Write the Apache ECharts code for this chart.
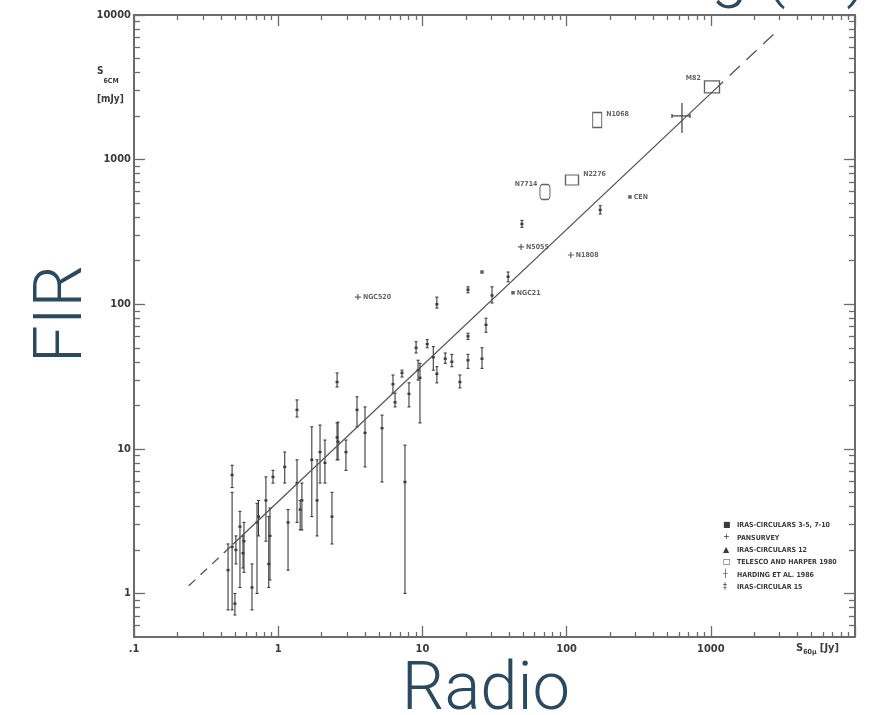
<!DOCTYPE html>
<html>
<head>
<meta charset="utf-8">
<script src="https://cdn.jsdelivr.net/npm/echarts@6/dist/echarts.min.js"></script>
<style>
  html, body { margin: 0; padding: 0; background: #ffffff; }
  #wrap { position: relative; width: 872px; height: 715px; overflow: hidden; }
  #plot, #names { position: absolute; left: 0; top: 0; width: 872px; height: 715px; }
  #plot { filter: blur(0.5px); }
</style>
</head>
<body>
<div id="wrap"><div id="plot"></div><div id="names"></div></div>
<script>
// 6 cm radio flux (mJy) against 60 micron IRAS flux (Jy), log-log.

// Axis decades and their labels
const xDecades = [0.1, 1, 10, 100, 1000, 10000];
const xDecadeLabels = ['.1', '1', '10', '100', '1000', ''];
const yDecades = [1, 10, 100, 1000, 10000];
const yDecadeLabels = ['1', '10', '100', '1000', '10000'];

// Vertical error bars (IRAS circular 15): S60, S6cm, lower, upper
const barX  = [0.479, 0.479, 0.449, 0.501, 0.509, 0.543, 0.570, 0.579, 0.658, 0.713,
               0.73, 0.822, 0.877, 0.86, 0.92, 1.11, 1.17, 1.35, 1.35, 1.46,
               1.42, 1.71, 1.86, 1.95, 2.11, 2.36, 2.60, 2.95, 2.56, 2.56,
               3.52, 4.0, 5.25, 7.57, 6.25, 6.46, 7.22, 8.07, 9.04, 9.33,
               9.62, 10.8, 11.9, 12.6, 14.4, 16.0, 18.2, 20.7, 20.7, 25.9,
               27.6, 20.7, 12.6, 30.4, 39.3, 49, 171];
const barY  = [6.6, 2.1, 1.45, 0.85, 2.0, 2.9, 1.9, 2.3, 1.1, 3.1,
               3.4, 4.4, 2.5, 1.6, 6.4, 7.5, 3.1, 18.6, 5.8, 4.4,
               3.8, 8.4, 4.4, 9.5, 8.0, 3.4, 11.2, 9.5, 29, 12,
               18.6, 12.9, 13.9, 5.9, 28, 21, 33.5, 24, 50, 35,
               31, 53, 43, 33, 42, 40, 29, 41, 60, 42,
               72, 126, 100, 115, 155, 359, 449];
const barLo = [5.4, 0.77, 0.77, 0.71, 1.6, 1.1, 1.5, 1.4, 0.77, 1.0,
               2.5, 2.3, 1.24, 1.1, 5.8, 5.8, 1.45, 16.6, 3.1, 2.75,
               2.75, 3.4, 2.5, 5.8, 5.8, 2.2, 8.4, 7.1, 26.8, 8.4,
               14.2, 7.5, 5.9, 1.0, 24.3, 19.5, 31.4, 19.5, 46, 29.9,
               15.1, 50, 35, 28.6, 39, 37, 26.4, 36, 57, 36,
               64, 120, 94, 102, 143, 340, 420];
const barHi = [7.7, 5.0, 2.2, 1.0, 2.5, 3.7, 2.5, 3.1, 1.6, 4.2,
               4.4, 6.4, 3.9, 3.4, 7.1, 9.5, 3.8, 21.8, 8.4, 5.8,
               4.4, 14.2, 8.4, 14.6, 11.5, 5.0, 15.3, 11.5, 33.5, 15.1,
               22.9, 19.5, 17.1, 10.6, 32.4, 24.3, 35, 28.6, 55, 41,
               39, 57, 51, 37, 46, 45, 32.4, 45, 63, 50,
               80, 132, 112, 132, 167, 380, 480];

// Cross with errors in both coordinates (Harding et al.)
const crossX = [631];   const crossY = [2005];
const crossXLo = [538]; const crossXHi = [718];
const crossYLo = [1530]; const crossYHi = [2466];

// Single sources
const plusX = [3.57, 48.3, 107];   const plusY = [112, 249, 219];
const plusNames = ['NGC520', 'N5055', 'N1808'];
const dotX = [42.5, 275, 25.9];    const dotY = [120, 552, 167];
const dotNames = ['NGC21', 'CEN', ''];
const boxX = [109, 163, 1019];     const boxY = [723, 1880, 3184];
const boxNames = ['N2276', 'N1068', 'M82'];
const ringX = [70.8];              const ringY = [598];
const ringNames = ['N7714'];

// Names written next to error-bar sources
const tagX = [0.479, 1.35, 7.57, 631, 1019];
const tagY = [7.7, 21.8, 5.9, 2005, 3184];
const tagNames = ['ZW11002', 'MRK 33', 'NGC278', 'M83', 'N253'];

// Fitted relation: solid over the data, dashed beyond
const fitSolidX = [0.486, 1035];  const fitSolidY = [2.19, 2965];
const fitLowX = [0.24, 0.486];    const fitLowY = [1.13, 2.19];
const fitHighX = [1035, 2786];    const fitHighY = [2965, 7516];

// Key entries
const keySymbols = ['\u25A0', '+', '\u25B2', '\u25A1', '\u253C', '\u2021'];
const keyTexts = ['IRAS-CIRCULARS 3-5, 7-10', 'PANSURVEY', 'IRAS-CIRCULARS 12',
                  'TELESCO AND HARPER 1980', 'HARDING ET AL. 1986', 'IRAS-CIRCULAR 15'];

// ---------------------------------------------------------------------------
const INK = '#3b3b3b';
const AXIS = '#6b6b6b';
const SMALL_FONT = '"Liberation Sans Narrow", "DejaVu Sans Condensed", sans-serif';

const xMin = 0.1, xMax = 10000, yMin = 0.5, yMax = 10000;
const xMinor = [];
[0.1, 1, 10, 100, 1000].forEach(d => { for (let k = 2; k <= 9; k++) xMinor.push(+(d * k).toPrecision(6)); });
const yMinor = [0.6, 0.7, 0.8, 0.9];
[1, 10, 100, 1000].forEach(d => { for (let k = 2; k <= 9; k++) yMinor.push(+(d * k).toPrecision(6)); });

function sameDecade(a, b) { return Math.abs(Math.log10(a) - Math.log10(b)) < 1e-6; }
function decadeLabel(list, labels) {
  return v => { const i = list.findIndex(d => sameDecade(d, v)); return i < 0 ? '' : labels[i]; };
}

function logAxis(kind, opts) {
  const base = {
    type: 'log', logBase: 10,
    min: kind === 'x' ? xMin : yMin, max: kind === 'x' ? xMax : yMax,
    splitLine: { show: false },
    axisLine: { show: false, lineStyle: { color: AXIS, width: 2 } },
    axisTick: { show: true, inside: true, lineStyle: { color: AXIS, width: 1.3 } },
    axisLabel: { show: false }
  };
  return Object.assign(base, opts, {
    axisLine: Object.assign({}, base.axisLine, opts.axisLine || {}),
    axisTick: Object.assign({}, base.axisTick, opts.axisTick || {}),
    axisLabel: Object.assign({}, base.axisLabel, opts.axisLabel || {})
  });
}

const xAxes = [
  logAxis('x', { position: 'bottom', axisLine: { show: true },
    axisTick: { customValues: xDecades, length: 11 },
    axisLabel: { show: true, customValues: xDecades.slice(0, 5), margin: 7,
      formatter: decadeLabel(xDecades, xDecadeLabels),
      color: INK, fontSize: 11, fontWeight: 'bold', fontFamily: SMALL_FONT } }),
  logAxis('x', { position: 'bottom', axisTick: { customValues: xMinor, length: 5 } }),
  logAxis('x', { position: 'top', axisLine: { show: true },
    axisTick: { customValues: xDecades, length: 11 } }),
  logAxis('x', { position: 'top', axisTick: { customValues: xMinor, length: 5 } })
];
const yAxes = [
  logAxis('y', { position: 'left', axisLine: { show: true },
    axisTick: { customValues: yDecades, length: 11 },
    axisLabel: { show: true, customValues: yDecades, margin: 3,
      formatter: decadeLabel(yDecades, yDecadeLabels),
      color: INK, fontSize: 11, fontWeight: 'bold', fontFamily: SMALL_FONT } }),
  logAxis('y', { position: 'left', axisTick: { customValues: yMinor, length: 6 } }),
  logAxis('y', { position: 'right', axisLine: { show: true },
    axisTick: { customValues: yDecades, length: 11 } }),
  logAxis('y', { position: 'right', axisTick: { customValues: yMinor, length: 6 } })
];

function pairs(xs, ys) { return xs.map((x, i) => [x, ys[i]]); }

function renderBar(params, api) {
  const x = api.value(0);
  const c = api.coord([x, api.value(1)]);
  const lo = api.coord([x, api.value(2)]);
  const hi = api.coord([x, api.value(3)]);
  const st = { stroke: INK, lineWidth: 1.1 };
  return { type: 'group', children: [
    { type: 'line', shape: { x1: c[0], y1: hi[1], x2: c[0], y2: lo[1] }, style: st },
    { type: 'line', shape: { x1: c[0] - 1.5, y1: hi[1], x2: c[0] + 1.5, y2: hi[1] }, style: st },
    { type: 'line', shape: { x1: c[0] - 1.5, y1: lo[1], x2: c[0] + 1.5, y2: lo[1] }, style: st },
    { type: 'rect', shape: { x: c[0] - 1.5, y: c[1] - 1.2, width: 3, height: 2.4 }, style: { fill: INK } }
  ]};
}

function renderCross(params, api) {
  const y = api.value(1);
  const c = api.coord([api.value(0), y]);
  const l = api.coord([api.value(2), y]);
  const r = api.coord([api.value(3), y]);
  const b = api.coord([api.value(0), api.value(4)]);
  const t = api.coord([api.value(0), api.value(5)]);
  const st = { stroke: INK, lineWidth: 1.2 };
  return { type: 'group', children: [
    { type: 'line', shape: { x1: l[0], y1: c[1], x2: r[0], y2: c[1] }, style: st },
    { type: 'line', shape: { x1: c[0], y1: t[1], x2: c[0], y2: b[1] }, style: st },
    { type: 'line', shape: { x1: l[0], y1: c[1] - 2, x2: l[0], y2: c[1] + 2 }, style: st },
    { type: 'line', shape: { x1: r[0], y1: c[1] - 2, x2: r[0], y2: c[1] + 2 }, style: st }
  ]};
}

const tagLabel = { show: true, color: INK, fontSize: 7, fontWeight: 'bold', fontFamily: SMALL_FONT };
function named(xs, ys, names, placements) {
  return xs.map((x, i) => ({ value: [x, ys[i]], name: names[i],
    label: Object.assign({}, tagLabel, { formatter: names[i] }, placements[i] || {}) }));
}

const fitStyle = { color: '#555', width: 1.3 };

const option = {
  backgroundColor: '#ffffff',
  animation: false,
  grid: { left: 134, right: 17, top: 15, bottom: 78, containLabel: false, outerBoundsMode: 'none' },
  xAxis: xAxes,
  yAxis: yAxes,
  series: [
    { type: 'line', data: pairs(fitSolidX, fitSolidY), symbol: 'none', lineStyle: fitStyle, silent: true },
    { type: 'line', data: pairs(fitLowX, fitLowY), symbol: 'none',
      lineStyle: Object.assign({ type: [9, 7] }, fitStyle), silent: true },
    { type: 'line', data: pairs(fitHighX, fitHighY), symbol: 'none',
      lineStyle: Object.assign({ type: [14, 9] }, fitStyle), silent: true },
    { type: 'custom', renderItem: renderBar, encode: { x: 0, y: [1, 2, 3] },
      data: barX.map((x, i) => [x, barY[i], barLo[i], barHi[i]]) },
    { type: 'custom', renderItem: renderCross, encode: { x: [0, 2, 3], y: [1, 4, 5] },
      data: crossX.map((x, i) => [x, crossY[i], crossXLo[i], crossXHi[i], crossYLo[i], crossYHi[i]]) },
    { type: 'scatter', symbol: 'path://M4,0H6V4H10V6H6V10H4V6H0V4H4Z', symbolSize: 6,
      itemStyle: { color: INK },
      data: named(plusX, plusY, plusNames, [
        { position: 'right', distance: 2 }, { position: 'right', distance: 2 }, { position: 'right', distance: 2 }]) },
    { type: 'scatter', symbol: 'rect', symbolSize: 3.5, itemStyle: { color: INK },
      data: named(dotX, dotY, dotNames, [
        { position: 'right', distance: 2 }, { position: 'right', distance: 2 }, { show: false }]) },
    { type: 'scatter', symbol: 'rect',
      itemStyle: { color: 'rgba(0,0,0,0)', borderColor: INK, borderWidth: 1.2 },
      data: named(boxX, boxY, boxNames, [
        { position: 'right', distance: 4, offset: [0, -6] },
        { position: 'right', distance: 4, offset: [0, -6] },
        { position: 'left', distance: 3, offset: [0, -9] }]).map((d, i) => Object.assign(d, {
          symbolSize: [[13, 10], [9, 15], [15, 12]][i] })) },
    { type: 'scatter', symbol: 'roundRect', symbolSize: [10, 15],
      itemStyle: { color: 'rgba(0,0,0,0)', borderColor: INK, borderWidth: 1.2 },
      data: named(ringX, ringY, ringNames, [{ position: 'left', distance: 2, offset: [0, -8] }]) },
    { type: 'scatter', symbol: 'none', silent: true,
      data: named(tagX, tagY, tagNames, [
        { position: 'top', distance: 4 },
        { position: 'top', distance: 3 },
        { position: 'right', distance: 3 },
        { position: 'left', distance: 5, offset: [0, -6] },
        { position: 'right', distance: 10, offset: [0, 10] }]) }
  ],
  graphic: [
    { type: 'text', left: 97, top: 66, style: {
        text: '{s|S}{sub|6CM}\n{s|[mJy]}', fill: INK, textAlign: 'left',
        rich: { s: { fontSize: 10, fontWeight: 'bold', fontFamily: SMALL_FONT, lineHeight: 28 },
                sub: { fontSize: 7, fontWeight: 'bold', fontFamily: SMALL_FONT, verticalAlign: 'bottom', padding: [6, 0, 0, 0] } } } },
    { type: 'text', left: 796, top: 642, style: {
        text: '{s|S}{sub|60\u03BC} {s|[Jy]}', fill: INK,
        rich: { s: { fontSize: 11, fontWeight: 'bold', fontFamily: SMALL_FONT },
                sub: { fontSize: 7, fontWeight: 'bold', fontFamily: SMALL_FONT, padding: [8, 0, 0, 0] } } } },
    { type: 'group', left: 723, top: 521, children: keySymbols.map((s, i) => ({
        type: 'group', y: i * 12.3, children: [
          { type: 'text', x: 0, y: 0, style: { text: s, fill: INK, fontSize: 8, fontFamily: 'DejaVu Sans' } },
          { type: 'text', x: 14, y: 1, style: { text: keyTexts[i], fill: INK, fontSize: 7, fontWeight: 'bold', fontFamily: SMALL_FONT } }
        ] })) }
  ]
};

const plot = echarts.init(document.getElementById('plot'), null, { renderer: 'canvas' });
plot.setOption(option);

// Axis titles and heading, drawn crisp on top of the plot
const NAVY = '#2c4a5f';
const bigFont = 'Roboto, "Open Sans", sans-serif';
const names = echarts.init(document.getElementById('names'), null, { renderer: 'canvas' });
names.setOption({
  backgroundColor: 'rgba(0,0,0,0)',
  graphic: [
    { type: 'text', x: 64, y: 314, rotation: Math.PI / 2, style: {
        text: 'FIR', fill: NAVY, fontSize: 67, fontWeight: 300, fontFamily: bigFont,
        textAlign: 'center', textVerticalAlign: 'middle' } },
    { type: 'text', x: 486, y: 692, style: {
        text: 'Radio', fill: NAVY, fontSize: 67, fontWeight: 300, fontFamily: bigFont,
        textAlign: 'center', textVerticalAlign: 'middle' } },
    { type: 'text', x: 868, y: 11, style: {
        text: 'Radio\u2013FIR scaling (IR)', fill: NAVY, fontSize: 67, fontWeight: 300, fontFamily: bigFont,
        textAlign: 'right', textVerticalAlign: 'bottom' } }
  ]
});
</script>
</body>
</html>
